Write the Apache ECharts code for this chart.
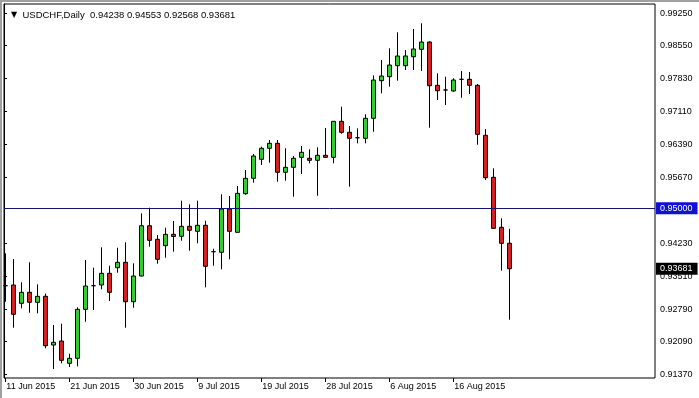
<!DOCTYPE html>
<html><head><meta charset="utf-8">
<script src="https://cdn.jsdelivr.net/npm/echarts@6/dist/echarts.min.js"></script>
<style>html,body{margin:0;padding:0;background:#fff}#c{width:699px;height:398px}</style>
</head><body><div id="c"></div>
<script>
const symbolName = 'USDCHF,Daily';
const dates = ['11 Jun 2015','12 Jun 2015','14 Jun 2015','15 Jun 2015','16 Jun 2015','17 Jun 2015','18 Jun 2015','19 Jun 2015',
'21 Jun 2015','22 Jun 2015','23 Jun 2015','24 Jun 2015','25 Jun 2015','26 Jun 2015','28 Jun 2015','29 Jun 2015',
'30 Jun 2015','1 Jul 2015','2 Jul 2015','3 Jul 2015','5 Jul 2015','6 Jul 2015','7 Jul 2015','8 Jul 2015',
'9 Jul 2015','10 Jul 2015','12 Jul 2015','13 Jul 2015','14 Jul 2015','15 Jul 2015','16 Jul 2015','17 Jul 2015',
'19 Jul 2015','20 Jul 2015','21 Jul 2015','22 Jul 2015','23 Jul 2015','24 Jul 2015','26 Jul 2015','27 Jul 2015',
'28 Jul 2015','29 Jul 2015','30 Jul 2015','31 Jul 2015','2 Aug 2015','3 Aug 2015','4 Aug 2015','5 Aug 2015',
'6 Aug 2015','7 Aug 2015','9 Aug 2015','10 Aug 2015','11 Aug 2015','12 Aug 2015','13 Aug 2015','14 Aug 2015',
'16 Aug 2015','17 Aug 2015','18 Aug 2015','19 Aug 2015','20 Aug 2015','21 Aug 2015','23 Aug 2015','24 Aug 2015'];
const opens = [0.93310,0.93326,0.92926,0.93166,0.92948,0.93079,0.92016,0.92103,
0.91616,0.91726,0.92795,0.93310,0.93326,0.93581,0.93703,0.93821,
0.92961,0.93522,0.94620,0.94323,0.94184,0.94432,0.94389,0.94607,
0.94498,0.94629,0.94053,0.94040,0.94985,0.94476,0.95319,0.95655,
0.96070,0.96310,0.96419,0.95786,0.95895,0.96113,0.96092,0.96048,
0.96157,0.96113,0.96899,0.96659,0.96541,0.96528,0.96965,0.97786,
0.97873,0.98113,0.98113,0.98309,0.98471,0.98630,0.97685,0.97583,
0.97561,0.97816,0.97816,0.97685,0.96594,0.95677,0.94585,0.94238];
const highs = [0.94018,0.93893,0.93385,0.93821,0.93341,0.93136,0.92452,0.92481,
0.91826,0.92839,0.93871,0.93703,0.94149,0.93747,0.94140,0.94258,
0.93799,0.94891,0.95013,0.94417,0.94577,0.94723,0.95166,0.95087,
0.95166,0.94729,0.94118,0.95306,0.95269,0.95487,0.95836,0.96185,
0.96345,0.96491,0.96491,0.96310,0.96142,0.96360,0.96288,0.96332,
0.96753,0.96905,0.97218,0.96797,0.96746,0.97052,0.97903,0.98237,
0.98493,0.98842,0.98456,0.98914,0.99039,0.98646,0.97947,0.97873,
0.97838,0.97997,0.97975,0.97714,0.96731,0.95873,0.94782,0.94553];
const lows = [0.92961,0.92393,0.92817,0.92721,0.92708,0.91944,0.91492,0.91616,
0.91536,0.91551,0.92524,0.92780,0.93232,0.92976,0.93594,0.92393,
0.92830,0.93515,0.94162,0.93791,0.93922,0.94053,0.94293,0.94074,
0.94236,0.93275,0.93747,0.93668,0.93887,0.94470,0.95297,0.95559,
0.95945,0.95995,0.95581,0.95603,0.95253,0.95749,0.95982,0.95275,
0.96105,0.95982,0.96629,0.95472,0.96419,0.96419,0.96672,0.97510,
0.97655,0.97786,0.98019,0.98019,0.97997,0.96760,0.97364,0.97255,
0.97545,0.97414,0.97495,0.96388,0.95618,0.94555,0.93638,0.92568];
const closes = [0.93310,0.92686,0.93166,0.92948,0.93079,0.92001,0.92075,0.91682,
0.91726,0.92795,0.93304,0.93310,0.93581,0.93166,0.93821,0.92961,
0.93522,0.94620,0.94301,0.93887,0.94432,0.94384,0.94607,0.94520,
0.94629,0.93734,0.94053,0.94985,0.94498,0.95327,0.95655,0.96142,
0.96310,0.96419,0.95786,0.95895,0.96092,0.96223,0.96048,0.96157,
0.96113,0.96899,0.96659,0.96528,0.96541,0.96965,0.97801,0.97888,
0.98128,0.98325,0.98325,0.98478,0.98630,0.97676,0.97567,0.97583,
0.97801,0.97816,0.97685,0.96615,0.95668,0.94563,0.94236,0.93681];
const priceTicks = [0.91370,0.92090,0.92790,0.93510,0.94230,0.95670,0.96390,0.97110,0.97830,0.98550,0.99250];
const levelLine = 0.95000;
const priceMin = 0.91296, priceMax = 0.99460;
const futureSlots = 18;

const FONT = '"Liberation Sans", Arial, sans-serif';
const categories = dates.concat(new Array(futureSlots).fill(''));
const candleData = dates.map((d, i) => [opens[i], closes[i], lows[i], highs[i]]);
const last = dates.length - 1;
const every8 = (idx, val) => val !== '' && idx % 8 === 0;
const titleText = '{tri|▼}  ' + symbolName + '  ' +
  [opens[last], highs[last], lows[last], closes[last]].map(v => v.toFixed(5)).join(' ');

const chart = echarts.init(document.getElementById('c'));
chart.setOption({
  animation: false,
  backgroundColor: '#fff',
  title: {
    left: 6, top: 5, text: titleText,
    textStyle: {fontFamily: FONT, fontSize: 9.5, fontWeight: 'normal', color: '#000',
      rich: {tri: {fontSize: 8, fontFamily: 'DejaVu Sans', color: '#000'}}}
  },
  grid: [
    {left: 1.3, top: 4, width: 656, bottom: 20, show: false},
    {left: 4, top: 4, right: 44, bottom: 20, show: true, borderColor: '#000', borderWidth: 1, backgroundColor: 'transparent'}
  ],
  xAxis: [
    {gridIndex: 0, type: 'category', data: categories, boundaryGap: true,
      axisLine: {show: false},
      axisTick: {show: true, interval: every8, alignWithLabel: true, length: 4, lineStyle: {color: '#000'}},
      axisLabel: {interval: every8, align: 'left', margin: 4, color: '#000', fontFamily: FONT, fontSize: 9,
        formatter: v => v, padding: [0, 0, 0, 1]},
      splitLine: {show: false}},
    {gridIndex: 1, type: 'value', min: 0, max: 1, show: false}
  ],
  yAxis: [
    {gridIndex: 0, type: 'value', min: priceMin, max: priceMax, show: false},
    {gridIndex: 1, type: 'value', min: priceMin, max: priceMax, position: 'right',
      axisLine: {show: true, lineStyle: {color: '#000'}},
      axisTick: {show: true, customValues: priceTicks, length: 3, inside: false, lineStyle: {color: '#000'}},
      axisLabel: {customValues: priceTicks, formatter: v => v.toFixed(5), margin: 5, color: '#000', fontFamily: FONT, fontSize: 9},
      splitLine: {show: false}}
  ],
  series: [
    {type: 'candlestick', xAxisIndex: 0, yAxisIndex: 0, data: candleData, barWidth: 4,
      itemStyle: {color: '#32CD32', color0: '#D42020', borderColor: '#000', borderColor0: '#000', borderColorDoji: '#000', borderWidth: 1}},
    {type: 'line', xAxisIndex: 1, yAxisIndex: 1, data: [], clip: false, silent: true,
      markLine: {symbol: 'none', silent: true, animation: false, precision: 5,
        data: [
          {yAxis: levelLine, lineStyle: {color: '#141470', width: 1, type: 'solid'},
            label: {show: true, position: 'end', distance: 1, formatter: levelLine.toFixed(5), color: '#fff',
              backgroundColor: '#1010D0', padding: [2, 5, 1, 4], fontFamily: FONT, fontSize: 9}},
          {yAxis: closes[last], lineStyle: {color: 'rgba(0,0,0,0)', width: 1, type: 'solid'},
            label: {show: true, position: 'end', distance: 1, formatter: closes[last].toFixed(5), color: '#fff',
              backgroundColor: '#000', padding: [2, 5, 1, 4], fontFamily: FONT, fontSize: 9}}
        ]}}
  ],
  graphic: [
    {type: 'rect', shape: {x: 0, y: 0, width: 699, height: 2}, style: {fill: '#a0a0a0'}, silent: true},
    {type: 'rect', shape: {x: 0, y: 0, width: 2, height: 398}, style: {fill: '#a0a0a0'}, silent: true}
  ]
});
</script></body></html>
